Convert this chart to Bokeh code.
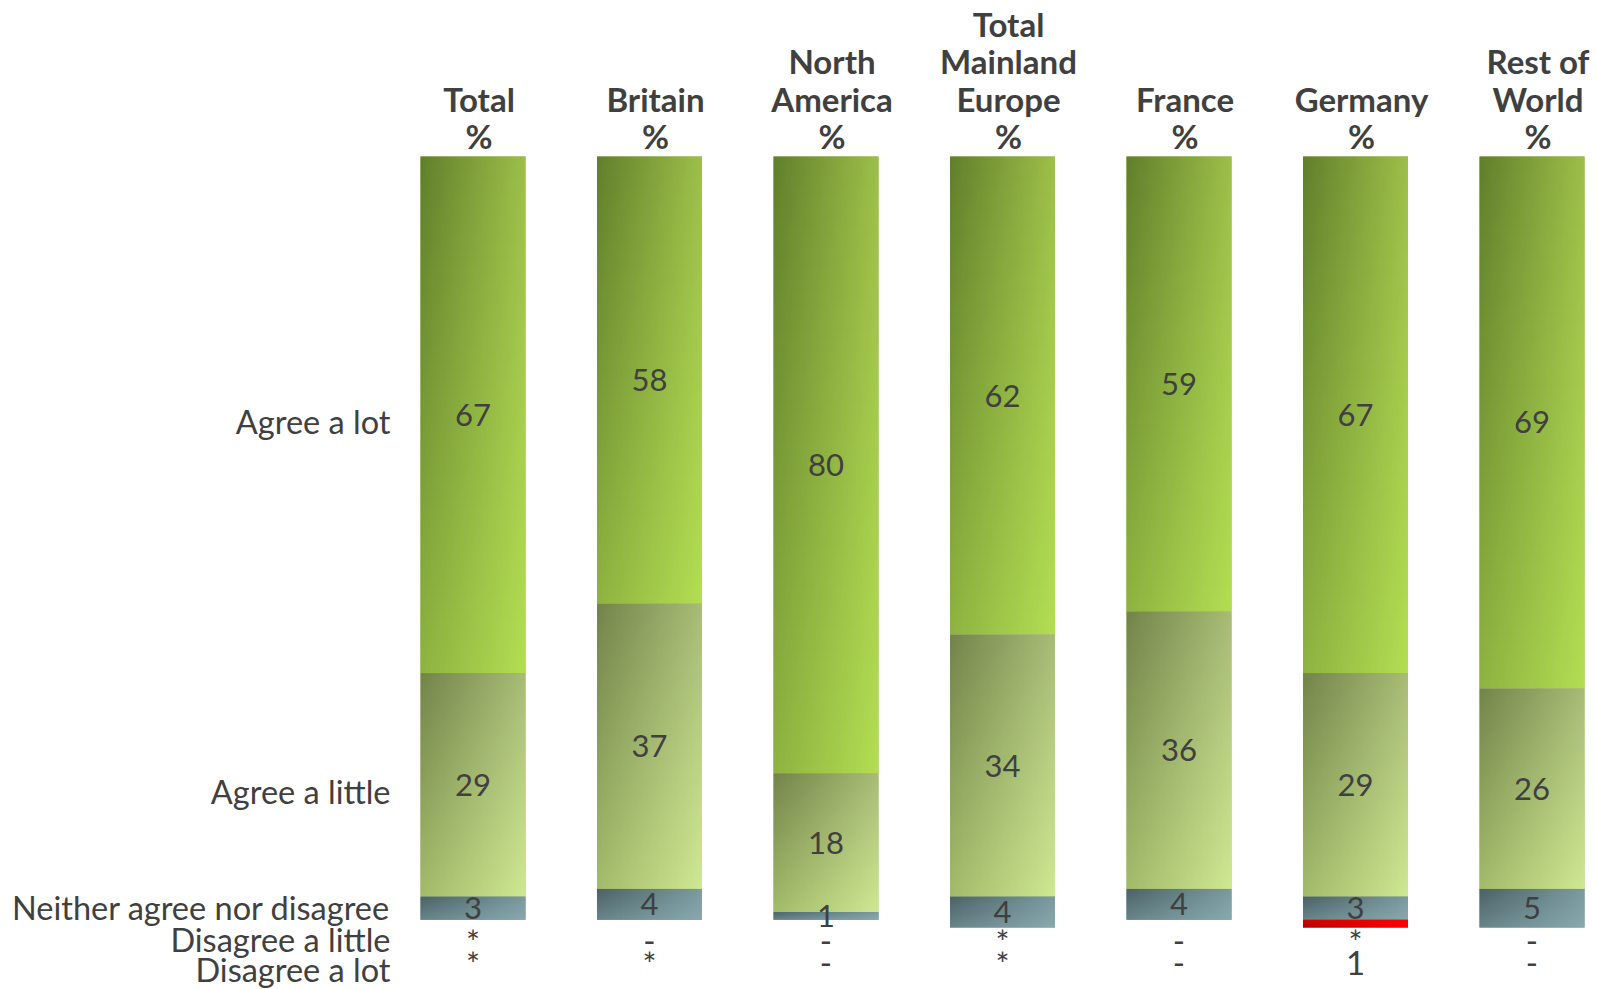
import numpy as np
from bokeh.plotting import figure
from bokeh.models import Range1d, ColumnDataSource
from bokeh.core.properties import value
from bokeh.embed import file_html
from bokeh.resources import INLINE

# ---------------- data ----------------
regions = ["Total", "Britain", "North America", "Total Mainland Europe",
           "France", "Germany", "Rest of World"]
header_labels = ["Total\n%", "Britain\n%", "North\nAmerica\n%",
                 "Total\nMainland\nEurope\n%", "France\n%", "Germany\n%",
                 "Rest of\nWorld\n%"]
responses = ["Agree a lot", "Agree a little", "Neither agree nor disagree",
             "Disagree a little", "Disagree a lot"]

agree_a_lot = [67, 58, 80, 62, 59, 67, 69]
agree_a_little = [29, 37, 18, 34, 36, 29, 26]
neither = [3, 4, 1, 4, 4, 3, 5]
disagree_a_little = [0, 0, 0, 0, 0, 0, 0]
disagree_a_lot = [0, 0, 0, 0, 0, 1, 0]
# printed values for the small "disagree" categories (* = less than 0.5, - = none)
disagree_a_little_labels = ["*", "-", "-", "*", "-", "*", "-"]
disagree_a_lot_labels = ["*", "*", "-", "*", "-", "1", "-"]

series = [agree_a_lot, agree_a_little, neither, disagree_a_little, disagree_a_lot]

# ---------------- layout constants ----------------
W, H = 1597, 989
PX_PER_PCT = 7.71          # vertical pixels per percentage point
TOP_PX = 156               # pixel where 0 % sits (bars hang from the top)
BAR_SPACING_PX = 176.5
FIRST_BAR_PX = 472.5
BAR_W = 105 / BAR_SPACING_PX

y_top = TOP_PX / PX_PER_PCT
y_bottom = y_top - H / PX_PER_PCT
x_start = -FIRST_BAR_PX / BAR_SPACING_PX
x_end = x_start + W / BAR_SPACING_PX

TEXT = "#404040"
FONT = "Lato"

# gradient corner colours per response: (top-left, top-right, bottom-left, bottom-right)
grad = [
    ("#62802c", "#9dbf49", "#8fb341", "#b3de52"),
    ("#74854b", "#a8bc77", "#a3bb6b", "#cfe892"),
    ("#4c6266", "#7a9aa0", "#68858a", "#89a9ae"),
    ("#a04040", "#d06060", "#a04040", "#d06060"),
    ("#e00000", "#ff0000", "#a80000", "#ff0000"),
]


def hex2rgb(h):
    h = h.lstrip("#")
    return np.array([int(h[i:i + 2], 16) for i in (0, 2, 4)], dtype=float)


def gradient_image(tl, tr, bl, br, nx=60, ny=60):
    tl, tr, bl, br = map(hex2rgb, (tl, tr, bl, br))
    u = np.linspace(0, 1, nx)[None, :, None]
    v = np.linspace(0, 1, ny)[:, None, None]  # row 0 = bottom
    top = tl * (1 - u) + tr * u
    bot = bl * (1 - u) + br * u
    rgb = bot * (1 - v) + top * v
    img = np.empty((ny, nx), dtype=np.uint32)
    view = img.view(dtype=np.uint8).reshape((ny, nx, 4))
    view[:, :, :3] = np.clip(rgb, 0, 255).astype(np.uint8)
    view[:, :, 3] = 255
    return img


def mean_hex(cols):
    m = np.mean([hex2rgb(c) for c in cols], axis=0)
    return "#%02x%02x%02x" % tuple(int(round(c)) for c in m)


p = figure(width=W, height=H, output_backend="svg", toolbar_location=None,
           x_range=Range1d(x_start, x_end), y_range=Range1d(y_bottom, y_top),
           min_border=0, x_axis_location=None, y_axis_location=None,
           background_fill_color="white", border_fill_color="white",
           outline_line_color=None)
p.grid.visible = False

xs = list(range(len(regions)))

# ---------------- stacked bars (hanging from 0 % at the top) ----------------
cum = np.zeros(len(regions))
for k, vals in enumerate(series):
    vals = np.array(vals, dtype=float)
    starts = cum.copy()
    ends = cum + vals
    src = ColumnDataSource(dict(x=xs, top=-starts, bottom=-ends))
    p.vbar(x="x", top="top", bottom="bottom", width=BAR_W, source=src,
           fill_color=mean_hex(grad[k]), line_color=None)
    img = gradient_image(*grad[k])
    for i in xs:
        if vals[i] > 0:
            p.image_rgba(image=[img], x=i - BAR_W / 2, y=-ends[i],
                         dw=BAR_W, dh=vals[i])
    cum = ends

# ---------------- value labels inside segments ----------------
cum = np.zeros(len(regions))
lab_x, lab_y, lab_t = [], [], []
for vals in series[:3]:
    vals = np.array(vals, dtype=float)
    mids = cum + vals / 2
    for i in xs:
        lab_x.append(i)
        lab_y.append(-mids[i])
        lab_t.append(str(int(vals[i])))
    cum = cum + vals
p.text(x=lab_x, y=lab_y, text=lab_t, text_font=value(FONT), text_font_size="31px",
       text_color=TEXT, text_align="center", text_baseline="middle")

# ---------------- small "disagree" values printed below the bars ----------------
ROW_LITTLE = -101.7
ROW_LOT = -104.6
p.text(x=xs, y=[ROW_LITTLE] * len(xs), text=disagree_a_little_labels,
       text_font=value(FONT), text_font_size="33px", text_color=TEXT,
       text_align="center", text_baseline="middle")
p.text(x=xs, y=[ROW_LOT] * len(xs), text=disagree_a_lot_labels,
       text_font=value(FONT), text_font_size="33px", text_color=TEXT,
       text_align="center", text_baseline="middle")

# ---------------- column headers ----------------
p.text(x=xs, y=[0.1] * len(xs), text=header_labels, text_font=value(FONT),
       text_font_size="33px", text_font_style="bold", text_color=TEXT,
       text_align="center", text_baseline="bottom", text_line_height=0.93,
       x_offset=6)

# ---------------- response labels on the left ----------------
LABEL_X = (390 - FIRST_BAR_PX) / BAR_SPACING_PX
total_mids = []
c = 0
for vals in series[:3]:
    total_mids.append(-(c + vals[0] / 2))
    c += vals[0]
left_y = total_mids + [-101.6, -105.4]
left_off = [7, 7, -1, 0, 0]
p.text(x=[LABEL_X] * 5, y=left_y, text=responses, text_font=value(FONT),
       text_font_size="32.5px", text_color=TEXT, text_align="right",
       text_baseline="middle", y_offset=left_off)

open("out.html", "w").write(file_html(p, INLINE))
